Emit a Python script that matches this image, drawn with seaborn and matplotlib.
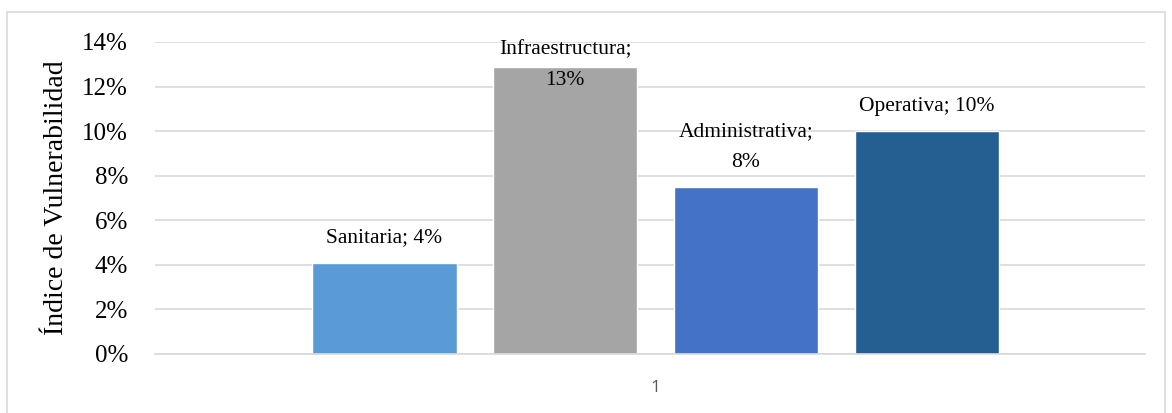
import matplotlib
matplotlib.use("Agg")
import matplotlib.pyplot as plt
import seaborn as sns
import pandas as pd
from matplotlib.patches import Rectangle
from matplotlib.ticker import FuncFormatter, MultipleLocator

# ---- data ----
categories = ["1"]
series = ["Sanitaria", "Infraestructura", "Administrativa", "Operativa"]
values = [0.041, 0.129, 0.075, 0.100]
labels = ["Sanitaria; 4%", "Infraestructura;\n13%", "Administrativa;\n8%", "Operativa; 10%"]
colors = ["#5B9BD5", "#A5A5A5", "#4472C4", "#255E91"]
y_label = "Índice de Vulnerabilidad"

df = pd.DataFrame({"cat": categories * len(series), "serie": series, "valor": values})

sns.set_theme(style="white")
plt.rcParams["font.family"] = ["Liberation Serif", "DejaVu Serif"]
plt.rcParams["text.color"] = "black"

fig = plt.figure(figsize=(11.72, 4.13), dpi=100)
W, H = 1172, 413
ax = fig.add_axes([155 / W, 1 - 354 / H, (1145 - 155) / W, (354 - 42) / H])

sns.barplot(data=df, x="cat", y="valor", hue="serie", hue_order=series,
            palette=colors, width=0.731, gap=0.2, dodge=True,
            saturation=1, legend=False, ax=ax, errorbar=None)

ax.set_ylim(0, 0.14)
ax.set_xlim(-0.5056, 0.4944)
ax.yaxis.set_major_locator(MultipleLocator(0.02))
ax.yaxis.set_major_formatter(FuncFormatter(lambda v, p: f"{v*100:.0f}%"))
ax.grid(axis="y", color="#d9d9d9", linewidth=1.2)
ax.set_axisbelow(True)
for s in ["top", "right", "left"]:
    ax.spines[s].set_visible(False)
ax.spines["bottom"].set_color("#d9d9d9")
ax.spines["bottom"].set_linewidth(1.2)
ax.tick_params(axis="y", length=0, pad=19.5, labelsize=18, labelcolor="black")
ax.tick_params(axis="x", length=0, pad=19)
for t in ax.get_xticklabels():
    t.set_fontfamily(["Open Sans", "DejaVu Sans"])
    t.set_fontsize(12.5)
    t.set_color("#595959")
ax.set_xlabel("")
ax.set_ylabel(y_label, fontsize=20, color="black")
ax.yaxis.set_label_coords((69 - 155) / (1145 - 155), 0.5)

# data labels
bars = [p for p in ax.patches if p.get_height() > 0]
bars.sort(key=lambda p: p.get_x())
for p, lab in zip(bars, labels):
    xc = p.get_x() + p.get_width() / 2
    top = p.get_height()
    nlines = lab.count("\n") + 1
    # Excel style: above bar, but kept inside plot area
    needed = (16 + nlines * 31) / 312 * 0.14
    if top + needed > 0.14:
        ax.annotate(lab, xy=(xc, 1.0), xycoords=("data", "axes fraction"),
                    xytext=(0, 1), textcoords="offset points",
                    ha="center", va="top", fontsize=15.5, linespacing=1.8)
    else:
        ax.annotate(lab, xy=(xc, top), xytext=(0, 11), textcoords="offset points",
                    ha="center", va="bottom", fontsize=15.5, linespacing=1.8)

# outer chart border
fig.patches.append(Rectangle((7 / W, -0.05), (1165 - 7) / W, 1 - 12 / H + 0.05,
                             transform=fig.transFigure, fill=False,
                             edgecolor="#d9d9d9", linewidth=1.2, zorder=0))

fig.savefig("out.png", dpi=100)
